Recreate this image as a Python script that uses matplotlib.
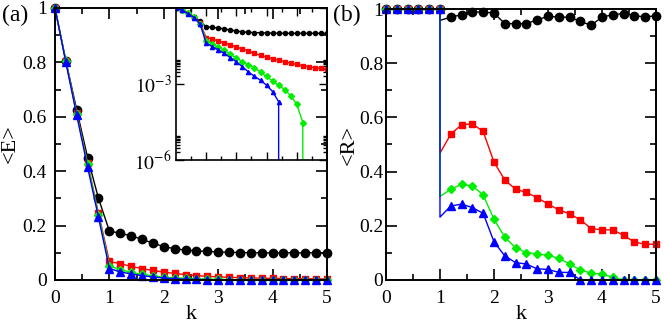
import numpy as np
import matplotlib
matplotlib.use("Agg")
import matplotlib.pyplot as plt
from matplotlib.ticker import MultipleLocator, FixedLocator

plt.rcParams['font.family'] = ['Liberation Serif', 'DejaVu Serif']
plt.rcParams['mathtext.fontset'] = 'stix'

# k grid (step 0.2) for panel (a)
k = [round(0.2 * i, 1) for i in range(26)]

# <E> vs k
E_black = [1.0, 0.805, 0.625, 0.45, 0.30, 0.18, 0.172, 0.162, 0.150, 0.135, 0.123,
           0.115, 0.110, 0.107, 0.105, 0.103, 0.102, 0.101, 0.100, 0.100, 0.100,
           0.100, 0.100, 0.100, 0.100, 0.100]
E_red = [1.0, 0.805, 0.615, 0.43, 0.245, 0.068, 0.060, 0.050, 0.042, 0.035, 0.029,
         0.024, 0.020, 0.016, 0.0135, 0.0115, 0.0099, 0.0086, 0.0075, 0.0066, 0.0059,
         0.0053, 0.0048, 0.0044, 0.0041, 0.0038]
E_green = [1.0, 0.805, 0.61, 0.425, 0.24, 0.052, 0.038, 0.028, 0.021, 0.015, 0.0105,
           0.0075, 0.0056, 0.0042, 0.003, 0.002, 0.0013, 0.0009, 0.0006, 0.00034,
           0.00016, 0.00003, 0, 0, 0, 0]
E_blue = [1.0, 0.80, 0.605, 0.415, 0.23, 0.042, 0.030, 0.022, 0.016, 0.011, 0.0075,
          0.0048, 0.003, 0.002, 0.0014, 0.0009, 0.0005, 0.0002, 0, 0, 0, 0, 0, 0, 0, 0]

# panel (b): k = 1 appears twice (value before and after the jump)
kR = k[:6] + k[5:]
R_black = [1.0] * 6 + [0.958, 0.970, 0.979, 0.989, 0.989, 0.985, 0.946, 0.946, 0.946,
                       0.960, 0.973, 0.970, 0.970, 0.954, 0.940, 0.970, 0.979, 0.983,
                       0.976, 0.970, 0.976]
R_red = [1.0] * 6 + [0.468, 0.538, 0.573, 0.576, 0.548, 0.435, 0.369, 0.335, 0.323,
                     0.304, 0.280, 0.259, 0.244, 0.222, 0.190, 0.185, 0.185, 0.165,
                     0.140, 0.132, 0.132]
R_green = [1.0] * 6 + [0.308, 0.335, 0.353, 0.347, 0.314, 0.224, 0.158, 0.119, 0.101,
                       0.096, 0.091, 0.080, 0.059, 0.037, 0.025, 0.022, 0.010, 0, 0,
                       0, 0]
R_blue = [1.0] * 6 + [0.232, 0.273, 0.280, 0.267, 0.246, 0.141, 0.089, 0.064, 0.059,
                      0.041, 0.039, 0.028, 0.028, 0, 0, 0, 0, 0, 0, 0, 0]

styles = [('black', 'o'), ('red', 's'), ('#00ee00', 'D'), ('blue', '^')]
msizes = [6, 5, 4.3, 5.5]

fig = plt.figure(figsize=(6.64, 3.25), dpi=100)
ax1 = fig.add_axes([0.0828, 0.1385, 0.4096, 0.8369])
ax2 = fig.add_axes([0.5813, 0.1385, 0.4066, 0.8338])
axin = fig.add_axes([0.265, 0.5077, 0.2274, 0.4677])


def style_axes(ax, ypad):
    ax.set_xlim(0, 5)
    ax.set_ylim(0, 1)
    ax.xaxis.set_major_locator(MultipleLocator(1))
    ax.xaxis.set_minor_locator(MultipleLocator(0.5))
    ax.yaxis.set_major_locator(MultipleLocator(0.2))
    ax.yaxis.set_minor_locator(MultipleLocator(0.1))
    ax.set_xticks([0, 1, 2, 3, 4, 5])
    ax.set_xticklabels(['0', '1', '2', '3', '4', '5'])
    ax.set_yticks([0, 0.2, 0.4, 0.6, 0.8, 1.0])
    ax.set_yticklabels(['0', '0.2', '0.4', '0.6', '0.8', '1'])
    ax.tick_params(which='both', direction='in', top=True, right=True,
                   width=1.2, labelsize=14)
    ax.tick_params(which='major', length=8)
    ax.tick_params(which='minor', length=4)
    ax.tick_params(axis='x', pad=7)
    ax.tick_params(axis='y', pad=ypad)
    for s in ax.spines.values():
        s.set_linewidth(1.4)
    ax.set_xlabel('k', fontsize=16, labelpad=-1)


# panel (a)
for ys, (c, m), ms in zip([E_black, E_red, E_green, E_blue], styles, msizes):
    ax1.plot(k, ys, color=c, marker=m, ms=ms, lw=1, clip_on=False)
style_axes(ax1, 6)
ax1.set_ylabel('<E>', fontsize=16, labelpad=2)
fig.text(0.003, 0.935, '(a)', fontsize=17)

# panel (b)
marks = [i for i in range(len(kR)) if i != 6]
for ys, (c, m), ms in zip([R_black, R_red, R_green, R_blue], styles, msizes):
    ax2.plot(kR, ys, color=c, marker=m, ms=ms, lw=1, markevery=marks, clip_on=False)
style_axes(ax2, 2)
ax2.set_ylabel('<R>', fontsize=16, labelpad=0)
fig.text(0.502, 0.935, '(b)', fontsize=17)

# inset of (a), log scale
axin.set_facecolor('none')
for ys, (c, m) in zip([E_black, E_red, E_green, E_blue], styles):
    axin.plot(k, ys, color=c, marker=m, ms=3, lw=1)
axin.set_yscale('log', nonpositive='clip')
axin.set_xlim(0, 5)
axin.set_ylim(1e-6, 1)
axin.set_xticks([1, 2, 3, 4])
axin.xaxis.set_minor_locator(FixedLocator([0.5, 1.5, 2.5, 3.5, 4.5]))
axin.set_xticklabels([])
axin.set_yticks([1e-6, 1e-3, 1])
axin.set_yticklabels(['$10^{-6}$', '$10^{-3}$', ''])
minor = [m * 1e-6 for m in range(2, 10)] + [m * 1e-3 for m in range(2, 10)]
axin.yaxis.set_minor_locator(FixedLocator(minor))
axin.tick_params(which='both', direction='in', top=True, right=True, width=1,
                 labelsize=14)
axin.tick_params(which='major', length=6)
axin.tick_params(which='minor', length=3)
axin.tick_params(axis='y', pad=3)
for s in axin.spines.values():
    s.set_linewidth(1.2)

fig.savefig('out.png', dpi=100)
